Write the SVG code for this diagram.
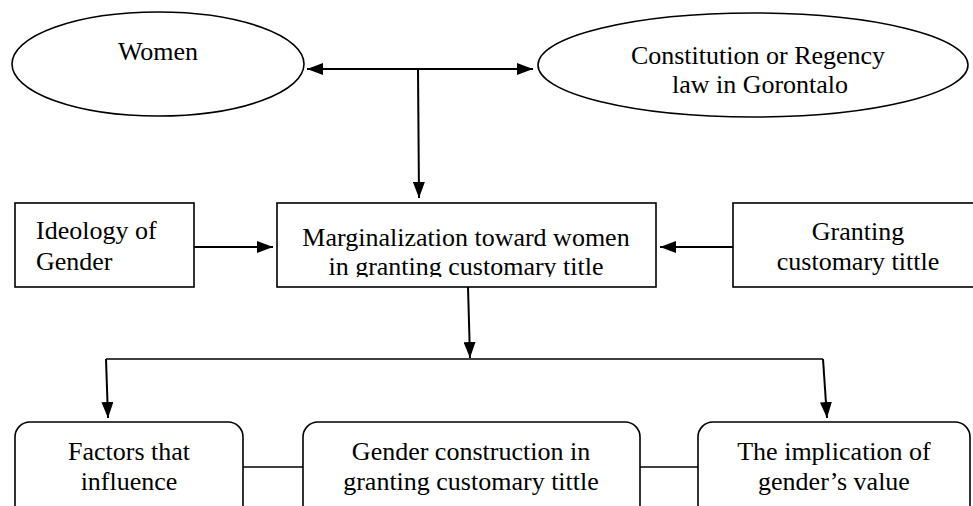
<svg xmlns="http://www.w3.org/2000/svg" width="973" height="506" viewBox="0 0 973 506">
  <style>
    .shape { fill: #ffffff; stroke: #000000; stroke-width: 1.6; }
    .line { fill: none; stroke: #000000; stroke-width: 2; }
    .thin { fill: none; stroke: #000000; stroke-width: 1.6; }
    text { font-family: "Liberation Serif", "Times New Roman", serif; font-size: 26px; fill: #000000; }
    .c { text-anchor: middle; }
  </style>
  <defs>
    <marker id="arrow" viewBox="0 0 16 12" refX="16" refY="6" markerWidth="16" markerHeight="12" markerUnits="userSpaceOnUse" orient="auto">
      <path d="M0,0 L16,6 L0,12 Z" fill="#000000"/>
    </marker>
    <clipPath id="midclip">
      <rect x="277" y="203" width="379" height="74"/>
    </clipPath>
  </defs>
  <rect x="0" y="0" width="973" height="506" fill="#ffffff"/>

  <g id="connectors">
    <line class="line" x1="418" y1="69" x2="307" y2="69" marker-end="url(#arrow)"/>
    <line class="line" x1="418" y1="69" x2="533" y2="69" marker-end="url(#arrow)"/>
    <line class="line" x1="418" y1="69" x2="419" y2="198" marker-end="url(#arrow)"/>
    <line class="line" x1="194" y1="247" x2="273" y2="247" marker-end="url(#arrow)"/>
    <line class="line" x1="733" y1="247" x2="660" y2="247" marker-end="url(#arrow)"/>
    <line class="line" x1="468" y1="287" x2="470" y2="358" marker-end="url(#arrow)"/>
    <line class="thin" x1="106" y1="359" x2="823" y2="359"/>
    <line class="line" x1="106" y1="359" x2="108" y2="418" marker-end="url(#arrow)"/>
    <line class="line" x1="823" y1="359" x2="827" y2="418" marker-end="url(#arrow)"/>
    <line class="thin" x1="243" y1="467" x2="303" y2="467"/>
    <line class="thin" x1="640" y1="467" x2="698" y2="467"/>
  </g>

  <g id="women">
    <ellipse class="shape" cx="158" cy="64" rx="146" ry="52"/>
    <text class="c" x="158" y="60">Women</text>
  </g>

  <g id="constitution">
    <ellipse class="shape" cx="753" cy="65" rx="215" ry="52"/>
    <text class="c" x="758" y="64">Constitution or Regency</text>
    <text class="c" x="760" y="93">law in Gorontalo</text>
  </g>

  <g id="ideology">
    <rect class="shape" x="15" y="203" width="179" height="84"/>
    <text x="36" y="239">Ideology of</text>
    <text x="36" y="270">Gender</text>
  </g>

  <g id="marginalization">
    <rect class="shape" x="277" y="203" width="379" height="84"/>
    <g clip-path="url(#midclip)">
      <text class="c" x="466" y="246">Marginalization toward women</text>
      <text class="c" x="466" y="275">in granting customary title</text>
    </g>
  </g>

  <g id="granting">
    <rect class="shape" x="733" y="203" width="250" height="84"/>
    <text class="c" x="858" y="240">Granting</text>
    <text class="c" x="858" y="270">customary tittle</text>
  </g>

  <g id="factors">
    <rect class="shape" x="15" y="422" width="228" height="110" rx="15" ry="15"/>
    <text class="c" x="129" y="460">Factors that</text>
    <text class="c" x="129" y="490">influence</text>
  </g>

  <g id="construction">
    <rect class="shape" x="303" y="422" width="337" height="110" rx="15" ry="15"/>
    <text class="c" x="471" y="460">Gender construction in</text>
    <text class="c" x="471" y="490">granting customary tittle</text>
  </g>

  <g id="implication">
    <rect class="shape" x="698" y="422" width="272" height="110" rx="15" ry="15"/>
    <text class="c" x="834" y="460">The implication of</text>
    <text class="c" x="834" y="490">gender’s value</text>
  </g>
</svg>
